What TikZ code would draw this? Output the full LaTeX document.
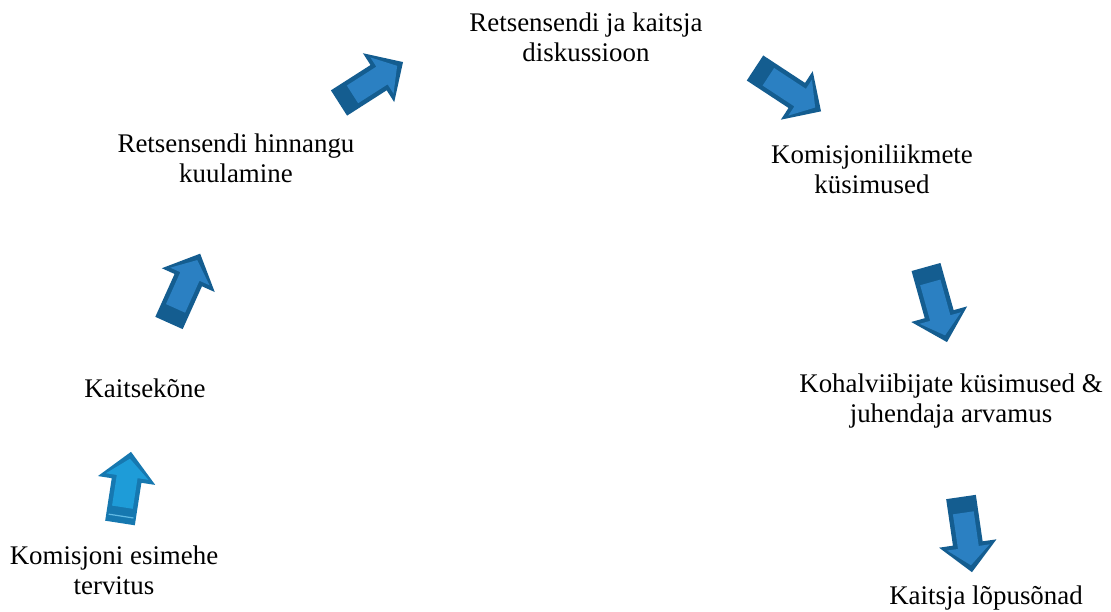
\documentclass[tikz,border=0pt]{standalone}
\usepackage{fontspec}
\setmainfont{Liberation Serif}
\definecolor{lightfill}{HTML}{1E9CD8}
\definecolor{lightedge}{HTML}{1678B0}
\definecolor{darkfill}{HTML}{2B80C2}
\definecolor{darkedge}{HTML}{145D90}
\newcommand\blockarrow[5]{%
\begin{scope}[shift={(#1)},rotate=#2]
 \fill[#5] (0,-15) -- (#3-29,-15) -- (#3-29,-29) -- (#3,0) -- (#3-29,29) -- (#3-29,15) -- (0,15) -- cycle;
 \fill[#4] (16,-10.5) -- (#3-25,-10.5) -- (#3-25,-21.5) -- (#3-7,0) -- (#3-25,21.5) -- (#3-25,10.5) -- (16,10.5) -- cycle;
\end{scope}}
\tikzset{lbl/.style={align=center,anchor=base,inner sep=0pt,font=\fontsize{27}{30.5}\selectfont}}
\begin{document}
\begin{tikzpicture}[x=1bp,y=1bp]
\useasboundingbox (0,0) rectangle (1111,612);
% labels (anchor = baseline of last line)
\node[lbl] (a) at (114,17) {Komisjoni esimehe\\tervitus};
\node[lbl] (b) at (145,214) {Kaitsekõne};
\node[lbl] (c) at (236,429) {Retsensendi hinnangu\\kuulamine};
\node[lbl] (d) at (586,550) {Retsensendi ja kaitsja\\diskussioon};
\node[lbl] (e) at (872,418) {Komisjoniliikmete\\küsimused};
\node[lbl] (f) at (951,189) {Kohalviibijate küsimused \&\\juhendaja arvamus};
\node[lbl] (g) at (986,7) {Kaitsja lõpusõnad};
% arrow tails
\coordinate (t1) at (120,89);
\coordinate (t2) at (169,289);
\coordinate (t3) at (339,509);
\coordinate (t4) at (755,544);
\coordinate (t5) at (926,345);
\coordinate (t6) at (961,115);
\blockarrow{t1}{81.2}{72}{lightfill}{lightedge}
\begin{scope}[shift={(t1)},rotate=81.2]
 \draw[lightfill!70!white,line width=1.2bp] (7,-12.5) -- (7,12.5);
\end{scope}
\blockarrow{t2}{65.8}{76}{darkfill}{darkedge}
\blockarrow{t3}{32.6}{76}{darkfill}{darkedge}
\blockarrow{t4}{-33.3}{79}{darkfill}{darkedge}
\blockarrow{t5}{-74.4}{78}{darkfill}{darkedge}
\blockarrow{t6}{-81.7}{76}{darkfill}{darkedge}
\end{tikzpicture}
\end{document}
